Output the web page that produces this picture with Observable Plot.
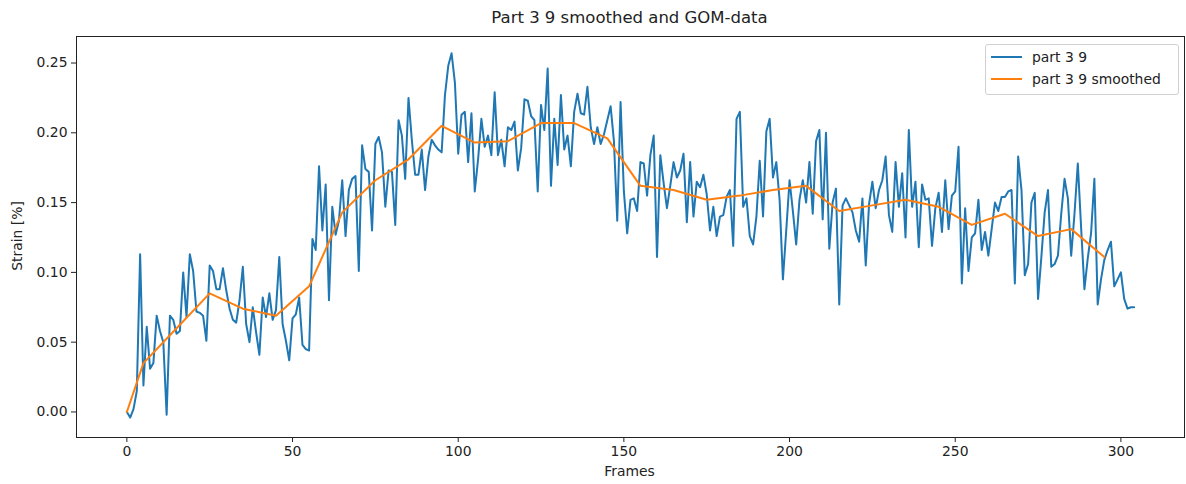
<!DOCTYPE html>
<html>
<head>
<meta charset="utf-8">
<script src="https://cdn.jsdelivr.net/npm/d3@7"></script>
<script src="https://cdn.jsdelivr.net/npm/@observablehq/plot@0.6"></script>
<style>
  html, body { margin: 0; padding: 0; background: #fff; }
  #wrap { position: relative; width: 1186px; height: 484px; font-family: "DejaVu Sans", sans-serif; color: #222; }
  #title { position: absolute; left: 76px; width: 1107px; top: 8px; text-align: center; font-size: 16.5px; }
  #xlabel { position: absolute; left: 76px; width: 1107px; top: 463px; text-align: center; font-size: 13.9px; }
  #ylabel { position: absolute; left: 17px; top: 236px; font-size: 13.9px; transform: translate(-50%, -50%) rotate(-90deg); white-space: nowrap; }
  #legend { position: absolute; left: 985px; top: 44px; width: 192px; height: 49px; border: 1px solid #d0d0d0; border-radius: 3px; background: rgba(255,255,255,0.85); font-size: 13.9px; }
  .row { position: absolute; left: 0; height: 20px; }
  .sw { position: absolute; left: 5px; width: 31px; height: 0; border-top: 2px solid; }
  .lt { position: absolute; left: 46px; white-space: nowrap; line-height: 20px; }
  svg { position: absolute; left: 0; top: 0; }
</style>
</head>
<body>
<div id="wrap">
  <div id="chart"></div>
  <div id="title"></div>
  <div id="xlabel"></div>
  <div id="ylabel"></div>
  <div id="legend"></div>
</div>
<script>
const titleText = "Part 3 9 smoothed and GOM-data";
const xLabel = "Frames";
const yLabel = "Strain [%]";
const seriesNames = ["part 3 9", "part 3 9 smoothed"];
const seriesColors = ["#1f77b4", "#ff7f0e"];
const xTicks = [0, 50, 100, 150, 200, 250, 300];
const yTicks = [0, 0.05, 0.10, 0.15, 0.20, 0.25];

// raw strain per frame (frames 0..304)
const strain = [
0.000,-0.004,0.002,0.015,0.113,0.019,0.061,0.031,0.035,0.069,
0.058,0.050,-0.002,0.069,0.066,0.056,0.058,0.100,0.068,0.113,
0.101,0.072,0.071,0.069,0.051,0.105,0.101,0.088,0.088,0.103,
0.087,0.074,0.066,0.064,0.080,0.104,0.063,0.050,0.075,0.057,
0.041,0.082,0.068,0.085,0.066,0.073,0.111,0.063,0.051,0.037,
0.067,0.070,0.082,0.048,0.045,0.044,0.124,0.116,0.176,0.130,
0.163,0.080,0.147,0.127,0.137,0.166,0.126,0.159,0.167,0.169,
0.101,0.191,0.174,0.172,0.130,0.192,0.197,0.186,0.147,0.173,
0.172,0.134,0.209,0.198,0.167,0.225,0.195,0.170,0.170,0.188,
0.159,0.183,0.195,0.191,0.188,0.186,0.227,0.248,0.257,0.236,
0.185,0.213,0.215,0.179,0.214,0.158,0.181,0.210,0.190,0.198,
0.184,0.229,0.184,0.195,0.176,0.204,0.202,0.208,0.173,0.189,
0.224,0.223,0.212,0.209,0.158,0.220,0.202,0.246,0.162,0.210,
0.177,0.227,0.188,0.198,0.176,0.215,0.228,0.214,0.213,0.233,
0.204,0.192,0.204,0.192,0.199,0.209,0.219,0.194,0.137,0.222,
0.158,0.128,0.152,0.153,0.144,0.179,0.178,0.155,0.184,0.198,
0.111,0.184,0.164,0.146,0.162,0.179,0.168,0.173,0.185,0.136,
0.179,0.140,0.165,0.161,0.170,0.156,0.130,0.147,0.126,0.140,
0.141,0.154,0.159,0.119,0.210,0.215,0.147,0.153,0.126,0.120,
0.140,0.180,0.140,0.201,0.210,0.168,0.179,0.152,0.095,0.130,
0.166,0.144,0.120,0.152,0.166,0.150,0.179,0.142,0.194,0.202,
0.138,0.200,0.117,0.150,0.160,0.077,0.148,0.153,0.148,0.143,
0.130,0.122,0.153,0.105,0.149,0.165,0.146,0.159,0.166,0.183,
0.141,0.129,0.179,0.147,0.171,0.125,0.202,0.147,0.165,0.118,
0.163,0.152,0.153,0.119,0.146,0.157,0.129,0.166,0.131,0.155,
0.158,0.190,0.092,0.146,0.101,0.125,0.128,0.152,0.116,0.129,
0.112,0.131,0.150,0.144,0.154,0.154,0.158,0.159,0.092,0.183,
0.159,0.098,0.106,0.150,0.157,0.081,0.111,0.143,0.159,0.104,
0.106,0.112,0.142,0.167,0.153,0.112,0.142,0.178,0.132,0.088,
0.110,0.128,0.167,0.077,0.095,0.109,0.116,0.122,0.090,0.095,
0.100,0.081,0.074,0.075,0.075
];

// smoothed series
const smoothFrames = [0, 5, 15, 25, 35, 45, 55, 65, 75, 85, 95, 105, 115, 125, 135, 145, 155, 165, 175, 185, 195, 205, 215, 225, 235, 245, 255, 265, 275, 285, 295];
const smoothStrain = [0.000, 0.035, 0.060, 0.085, 0.074, 0.069, 0.090, 0.143, 0.166, 0.181, 0.205, 0.193, 0.194, 0.207, 0.207, 0.196, 0.162, 0.159, 0.152, 0.155, 0.159, 0.162, 0.144, 0.148, 0.152, 0.147, 0.134, 0.142, 0.126, 0.131, 0.111];

const raw = strain.map((v, i) => ({frame: i, strain: v}));
const smooth = smoothFrames.map((f, i) => ({frame: f, strain: smoothStrain[i]}));

const chart = Plot.plot({
  width: 1186,
  height: 484,
  marginLeft: 76,
  marginRight: 2,
  marginTop: 36,
  marginBottom: 47,
  style: {fontFamily: "DejaVu Sans, sans-serif", fontSize: "13.9px", color: "#222", background: "#fff"},
  x: {domain: [-15.2, 319.2]},
  y: {domain: [-0.0183, 0.269]},
  marks: [
    Plot.axisX({ticks: xTicks, tickSize: 5, tickPadding: 4, label: null, stroke: "#222"}),
    Plot.axisY({ticks: yTicks, tickSize: 5, tickPadding: 4, label: null, tickFormat: d3.format(".2f"), stroke: "#222"}),
    Plot.line(raw, {x: "frame", y: "strain", stroke: seriesColors[0], strokeWidth: 2}),
    Plot.line(smooth, {x: "frame", y: "strain", stroke: seriesColors[1], strokeWidth: 2}),
    Plot.frame({stroke: "#222", strokeWidth: 1})
  ]
});
document.getElementById("chart").appendChild(chart);

document.getElementById("title").textContent = titleText;
document.getElementById("xlabel").textContent = xLabel;
document.getElementById("ylabel").textContent = yLabel;
const leg = document.getElementById("legend");
seriesNames.forEach((name, i) => {
  const row = document.createElement("div");
  row.className = "row";
  row.style.top = (i === 0 ? 2 : 24) + "px";
  const sw = document.createElement("div");
  sw.className = "sw";
  sw.style.borderTopColor = seriesColors[i];
  sw.style.top = "9px";
  const lt = document.createElement("div");
  lt.className = "lt";
  lt.textContent = name;
  row.appendChild(sw);
  row.appendChild(lt);
  leg.appendChild(row);
});
</script>
</body>
</html>
